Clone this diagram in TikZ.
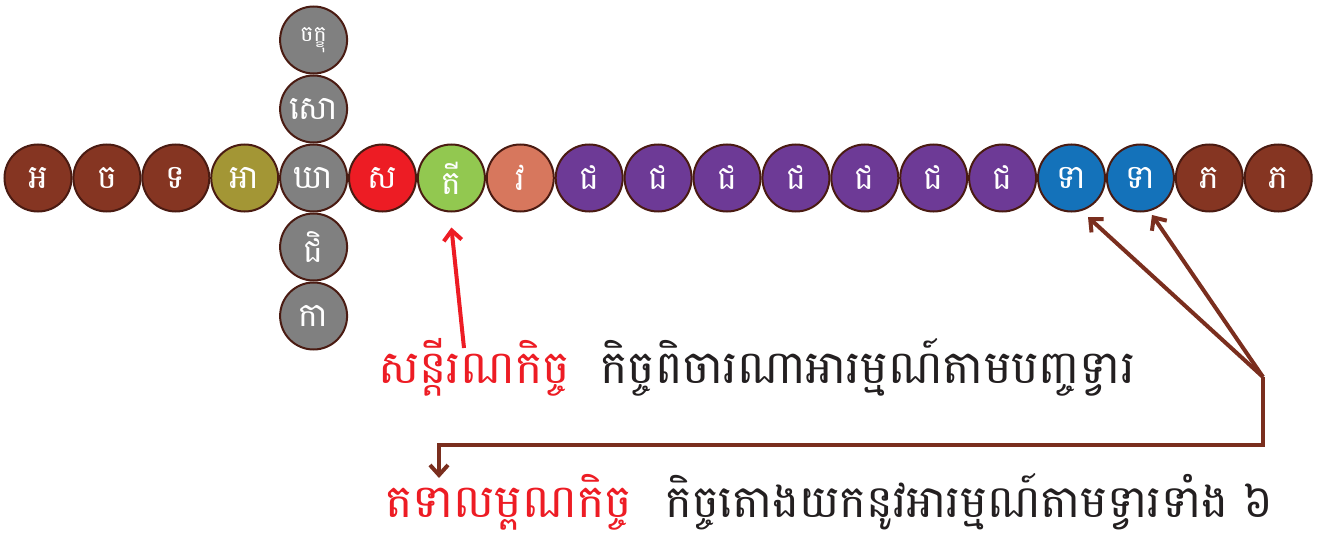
\documentclass[tikz,border=0pt]{standalone}
\usepackage{fontspec}
\newfontfamily\km[Script=Khmer]{Battambang}
\usetikzlibrary{arrows.meta}
\definecolor{cbrown}{HTML}{853522}
\definecolor{colive}{HTML}{A39635}
\definecolor{cgray}{HTML}{808080}
\definecolor{cred}{HTML}{ED1C24}
\definecolor{cgreen}{HTML}{92C850}
\definecolor{csalmon}{HTML}{D7775D}
\definecolor{cpurple}{HTML}{6D3A96}
\definecolor{cblue}{HTML}{1472BA}
\definecolor{cedge}{HTML}{4A1B12}
\definecolor{carrow}{HTML}{7A2E1E}
\definecolor{ctext}{HTML}{231F20}
\tikzset{
  bead/.style={circle, draw=cedge, line width=2pt, minimum size=67pt, inner sep=0pt,
    text=white, font=\km\fontsize{33}{33}\selectfont},
  smallbead/.style={bead, font=\km\fontsize{22}{22}\selectfont},
  redcap/.style={anchor=base west, text=cred, inner sep=0pt, font=\km\fontsize{46}{46}\selectfont},
  blackcap/.style={anchor=base west, text=ctext, inner sep=0pt, font=\km\fontsize{46}{46}\selectfont},
  redarrow/.style={draw=cred, line width=4pt, -{Straight Barb[length=10pt,width=18pt]}},
  brownarrow/.style={draw=carrow, line width=4pt, -{Straight Barb[length=10pt,width=18pt]}},
}
\begin{document}
\begin{tikzpicture}[x=1pt,y=-1pt]
\useasboundingbox (0,0) rectangle (1323,535);
\foreach \lab/\col [count=\i from 0] in {អ/cbrown,ច/cbrown,ទ/cbrown,អា/colive,ឃា/cgray,ស/cred,តី/cgreen,វ/csalmon,ជ/cpurple,ជ/cpurple,ជ/cpurple,ជ/cpurple,ជ/cpurple,ជ/cpurple,ជ/cpurple,ទា/cblue,ទា/cblue,ភ/cbrown,ភ/cbrown}
  \node[bead, fill=\col] (b\i) at ({38+68.9*\i},178) {\lab};
\node[smallbead, fill=cgray] (v0) at (313.6,40) {ចក្ខុ};
\node[bead, fill=cgray] (v1) at (313.6,109) {សោ};
\node[bead, fill=cgray] (v3) at (313.6,247) {ជិ};
\node[bead, fill=cgray] (v4) at (313.6,316) {កា};
% captions
\node[redcap] (c1r) at (378,383) {សន្តីរណកិច្ច};
\node[blackcap] (c1b) at (600,383) {កិច្ចពិចារណាអារម្មណ៍តាមបញ្ចទ្វារ};
\node[redcap] (c2r) at (385,517) {តទាលម្ពណកិច្ច};
\node[blackcap, font=\km\fontsize{45}{45}\selectfont] (c2b) at (665,517) {កិច្ចតោងយកនូវអារម្មណ៍តាមទ្វារទាំង ៦};
% arrows
\coordinate (rtail) at (464,348);
\draw[redarrow] (rtail) -- ([yshift=-15pt]b6.south);
\coordinate (k) at (1263,377);
\coordinate (turn) at (439,445);
\coordinate (ktip) at (439,478);
\draw[brownarrow] (k) -- ([xshift=16.5pt,yshift=-39pt]b15.center);
\draw[brownarrow] (k) -- ([xshift=11.6pt,yshift=-37pt]b16.center);
\draw[brownarrow, line join=miter] (k) |- (turn) -- (ktip);
\end{tikzpicture}
\end{document}
